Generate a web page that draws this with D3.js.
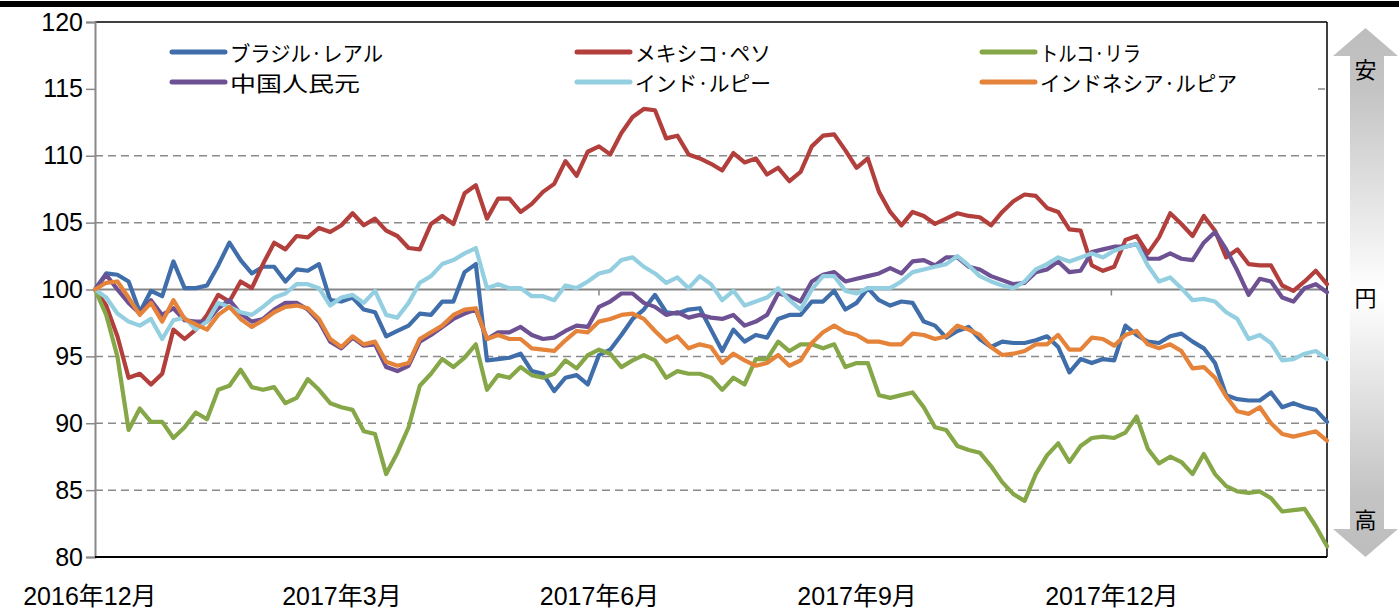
<!DOCTYPE html>
<html><head><meta charset="utf-8">
<script src="https://cdn.jsdelivr.net/npm/d3@7"></script>
<style>body{margin:0;background:#fff;overflow:hidden;} svg{display:block;}</style>
</head><body><svg id="c" width="1399" height="612"></svg>
<script>
// ---- data ----
const startDate = new Date(2016, 11, 3);
const endDate = new Date(2018, 1, 16);
const dates = d3.timeDay.range(startDate, new Date(2018, 1, 17), 4); // every 4 days, 111 points

const seriesNames = ["ブラジル·レアル", "メキシコ·ペソ", "トルコ·リラ", "中国人民元", "インド·ルピー", "インドネシア·ルピア"];
const seriesColors = ["#3f6eaa", "#b23f3c", "#86a747", "#6d5193", "#93cfe0", "#e5833a"];

const brl = [100,101.2,101.1,100.6,98.3,99.9,99.5,102.1,100.1,100.1,100.3,101.8,103.5,102.2,101.2,101.7,101.7,100.6,101.5,
  101.4,101.9,99.2,99.1,99.4,98.5,98.3,96.5,96.9,97.3,98.2,98.1,99.1,99.1,101.3,101.9,94.7,94.8,
  94.9,95.2,93.9,93.7,92.4,93.4,93.6,92.9,95.1,95.5,96.6,97.8,98.5,99.6,98.3,98.2,98.5,98.6,
  97.0,95.4,97.0,96.1,96.6,96.4,97.8,98.1,98.1,99.1,99.1,99.9,98.5,99.0,100.1,99.2,98.8,99.1,99.0,
  97.6,97.3,96.4,96.9,97.2,96.3,95.7,96.1,96.0,96.0,96.2,96.5,95.7,93.8,94.8,94.5,94.8,94.7,
  97.3,96.6,96.1,96.0,96.5,96.7,96.1,95.6,94.5,92.1,91.8,91.7,91.7,92.3,91.2,91.5,91.2,91.0,90.1];
const mxn = [100,98.8,96.5,93.4,93.7,92.9,93.7,97.0,96.3,97.0,98.1,99.6,99.1,100.6,100.1,101.9,103.5,103.0,104.0,
  103.9,104.6,104.3,104.8,105.7,104.8,105.3,104.4,104.0,103.1,103.0,104.9,105.5,104.9,107.2,107.8,105.3,106.8,
  106.8,105.8,106.4,107.3,107.9,109.6,108.5,110.3,110.7,110.1,111.7,112.9,113.5,113.4,111.3,111.5,110.1,109.8,
  109.4,108.9,110.2,109.5,109.8,108.6,109.1,108.1,108.8,110.7,111.5,111.6,110.4,109.1,109.8,107.3,105.8,104.8,105.8,
  105.5,104.9,105.3,105.7,105.5,105.4,104.8,105.8,106.6,107.1,107.0,106.1,105.8,104.5,104.4,101.8,101.4,101.7,
  103.7,104.0,102.7,103.9,105.7,104.9,104.0,105.5,104.4,102.4,103.0,101.9,101.8,101.8,100.3,99.9,100.6,101.4,100.4];
const tryl = [100,98.1,95.0,89.5,91.1,90.1,90.1,88.9,89.7,90.8,90.3,92.5,92.8,94.0,92.7,92.5,92.7,91.5,91.9,
  93.3,92.5,91.5,91.2,91.0,89.4,89.2,86.2,87.8,89.7,92.8,93.7,94.8,94.2,94.9,95.9,92.5,93.6,
  93.4,94.2,93.6,93.4,93.7,94.7,94.1,95.1,95.5,95.2,94.2,94.7,95.1,94.7,93.4,93.9,93.7,93.7,
  93.4,92.5,93.4,92.9,94.8,94.8,96.1,95.4,95.9,95.9,95.6,95.9,94.2,94.5,94.5,92.1,91.9,92.1,92.3,
  91.2,89.7,89.5,88.3,88.0,87.8,86.8,85.6,84.7,84.2,86.2,87.6,88.5,87.1,88.3,88.9,89.0,88.9,
  89.3,90.5,88.1,87.0,87.5,87.1,86.2,87.7,86.2,85.3,84.9,84.8,84.9,84.4,83.4,83.5,83.6,82.3,80.8];
const cny = [100,101.1,100.0,99.0,98.2,99.2,98.1,98.6,97.7,97.6,97.6,98.6,99.2,98.2,97.6,97.8,98.5,99.0,99.0,
  98.5,97.6,96.1,95.6,96.4,95.8,95.9,94.2,93.9,94.3,96.1,96.6,97.2,97.8,98.2,98.5,96.3,96.8,
  96.8,97.2,96.6,96.3,96.4,96.9,97.3,97.2,98.7,99.1,99.7,99.7,99.0,98.7,98.1,98.3,97.9,98.1,
  97.9,97.8,98.1,97.3,97.6,98.1,99.7,99.5,99.1,100.6,101.1,101.3,100.6,100.8,101.0,101.2,101.6,101.2,102.1,
  102.2,101.8,102.4,102.4,101.7,101.5,101.0,100.7,100.4,100.5,101.3,101.5,102.1,101.3,101.4,102.8,103.0,103.2,
  103.2,103.4,102.3,102.3,102.7,102.3,102.2,103.5,104.3,103.0,101.4,99.6,100.8,100.6,99.4,99.1,100.1,100.4,99.8];
const inr = [100,99.4,98.2,97.6,97.3,97.8,96.3,97.7,97.9,97.0,97.6,99.0,98.7,98.3,98.1,98.7,99.4,99.7,100.4,
  100.4,100.1,98.8,99.4,99.6,99.0,99.9,98.1,97.9,99.0,100.5,101.0,101.9,102.2,102.7,103.1,100.1,100.4,
  100.1,100.1,99.5,99.5,99.2,100.3,100.1,100.6,101.2,101.4,102.2,102.4,101.7,101.2,100.5,100.9,100.1,101.0,
  100.4,99.2,99.9,98.8,99.1,99.4,100.1,99.2,98.5,100.0,101.0,101.0,99.9,99.7,100.1,100.1,100.1,100.6,101.3,
  101.5,101.7,101.9,102.5,101.8,101.0,100.6,100.3,100.1,100.6,101.5,101.9,102.4,102.1,102.4,102.7,102.4,102.9,
  103.2,103.4,101.8,100.6,100.9,100.1,99.2,99.3,99.1,98.3,97.8,96.3,96.6,96.0,94.7,94.8,95.2,95.4,94.8];
const idr = [100,100.5,100.6,99.4,98.1,99.0,97.6,99.2,97.8,97.4,97.0,98.1,98.7,97.8,97.2,97.7,98.3,98.7,98.8,
  98.6,97.8,96.3,95.7,96.5,95.9,96.1,94.6,94.3,94.5,96.3,96.8,97.3,98.1,98.5,98.6,96.3,96.6,
  96.3,96.3,95.6,95.5,95.4,96.2,96.9,96.8,97.6,97.8,98.1,98.2,97.8,96.9,96.1,96.5,95.6,95.9,
  95.7,94.5,95.2,94.7,94.3,94.5,95.1,94.3,94.7,96.0,96.8,97.3,96.8,96.6,96.1,96.1,95.9,95.9,96.7,
  96.6,96.3,96.5,97.3,97.0,96.6,95.7,95.1,95.2,95.4,95.9,95.9,96.6,95.5,95.5,96.4,96.3,95.8,
  96.6,96.9,95.9,95.6,95.9,95.4,94.1,94.2,93.4,92.0,90.9,90.7,91.2,90.0,89.2,89.0,89.2,89.4,88.7];
const seriesValues = [brl, mxn, tryl, cny, inr, idr];

const yTicks = [80, 85, 90, 95, 100, 105, 110, 115, 120];
const xTickDates = [new Date(2016,11,1), new Date(2017,2,1), new Date(2017,5,1), new Date(2017,8,1), new Date(2017,11,1)];
const xTickLabels = ["2016年12月", "2017年3月", "2017年6月", "2017年9月", "2017年12月"];
const axisMarkDates = [new Date(2017,5,1), new Date(2017,11,1)];
const sideLabels = ["安", "円", "高"];

// ---- layout (styling only) ----
const legendTextWidths = [153, 136, 101, 130, 136, 197];
const L = 95, R = 1327, T = 22, B = 557;
const svg = d3.select("#c");
const x = d3.scaleTime().domain([startDate, endDate]).range([L, R]);
const y = d3.scaleLinear().domain([80, 120]).range([B, T]);
const cjk = "'Noto Sans CJK JP', 'Noto Sans CJK SC', sans-serif";
const latin = "'Liberation Sans', Arial, 'Noto Sans CJK JP', sans-serif";

// top black rule
svg.append("rect").attr("x", 0).attr("y", 1).attr("width", 1399).attr("height", 6).attr("fill", "#000");

// gridlines
svg.append("g").selectAll("line").data(yTicks.filter(v => v !== 80 && v !== 120 && v !== 100)).join("line")
  .attr("x1", L).attr("x2", R).attr("y1", d => y(d)).attr("y2", d => y(d))
  .attr("stroke", "#8a8a8a").attr("stroke-width", 1.5).attr("stroke-dasharray", "8,5");
svg.append("line").attr("x1", L).attr("x2", R).attr("y1", y(100)).attr("y2", y(100))
  .attr("stroke", "#858585").attr("stroke-width", 1.8);
svg.append("g").selectAll("line").data(axisMarkDates).join("line")
  .attr("x1", d => x(d)).attr("x2", d => x(d)).attr("y1", y(100)).attr("y2", y(100) + 6)
  .attr("stroke", "#858585").attr("stroke-width", 1.5);

// legend background (covers 115 gridline)
svg.append("rect").attr("x", L + 1).attr("y", 34).attr("width", 1318 - L - 1).attr("height", 64).attr("fill", "#fff");

// frame
svg.append("line").attr("x1", L).attr("x2", R).attr("y1", T).attr("y2", T).attr("stroke", "#000").attr("stroke-width", 1.5);
svg.append("line").attr("x1", R).attr("x2", R).attr("y1", T).attr("y2", B).attr("stroke", "#000").attr("stroke-width", 1.5);

// y axis
const yAxis = svg.append("g").attr("transform", `translate(${L},0)`)
  .call(d3.axisLeft(y).tickValues(yTicks).tickSize(9).tickPadding(3).tickFormat(d3.format("d")));
yAxis.select(".domain").attr("stroke", "#888").attr("stroke-width", 2);
yAxis.selectAll(".tick line").attr("stroke", "#888").attr("stroke-width", 1.5);
yAxis.selectAll("text").attr("font-family", latin).attr("font-size", 25).attr("fill", "#000");

// x axis (bottom)
const xAxis = svg.append("g").attr("transform", `translate(0,${B})`)
  .call(d3.axisBottom(x).tickValues(xTickDates).tickSize(0).tickPadding(0)
    .tickFormat((d, i) => xTickLabels[i]));
xAxis.select(".domain").attr("stroke", "#000").attr("stroke-width", 2.2).attr("d", `M${L},0H${R}`);
xAxis.selectAll("text").attr("font-family", latin).attr("font-size", 25).attr("fill", "#000")
  .attr("dy", null).attr("y", 48);

// series lines
const line = d3.line().x((d, i) => x(dates[i])).y(d => y(d));
svg.append("g").selectAll("path").data(seriesValues).join("path")
  .attr("d", d => line(d)).attr("fill", "none")
  .attr("stroke", (d, i) => seriesColors[i]).attr("stroke-width", 4.2)
  .attr("stroke-linejoin", "round").attr("stroke-linecap", "round");

// legend
const legCols = [172, 577, 982], legRows = [52, 82];
const leg = svg.append("g").selectAll("g").data(seriesNames).join("g")
  .attr("transform", (d, i) => `translate(${legCols[i % 3]},${legRows[Math.floor(i / 3)]})`);
leg.append("line").attr("x1", 0).attr("x2", 53).attr("y1", 0).attr("y2", 0)
  .attr("stroke", (d, i) => seriesColors[i]).attr("stroke-width", 5).attr("stroke-linecap", "round");
leg.append("text").attr("x", 58).attr("y", 1).attr("dy", "0.36em").text(d => d)
  .attr("font-family", cjk).attr("font-size", 21).attr("fill", "#000")
  .attr("textLength", (d, i) => legendTextWidths[i]).attr("lengthAdjust", "spacingAndGlyphs");

// side arrow
const defs = svg.append("defs");
const grad = defs.append("linearGradient").attr("id", "ag").attr("x1", 0).attr("y1", 0).attr("x2", 0).attr("y2", 1);
grad.append("stop").attr("offset", "0%").attr("stop-color", "#bdbdbd");
grad.append("stop").attr("offset", "12%").attr("stop-color", "#c4c4c4");
grad.append("stop").attr("offset", "50%").attr("stop-color", "#ffffff");
grad.append("stop").attr("offset", "88%").attr("stop-color", "#c4c4c4");
grad.append("stop").attr("offset", "100%").attr("stop-color", "#bdbdbd");
const ax0 = 1333, ax1 = 1398, sx0 = 1350, sx1 = 1384, cx = (ax0 + ax1) / 2;
const topTip = 28, topBase = 56, botBase = 529, botTip = 557;
svg.append("path").attr("fill", "url(#ag)")
  .attr("d", `M${cx},${topTip}L${ax1},${topBase}L${sx1},${topBase}L${sx1},${botBase}L${ax1},${botBase}L${cx},${botTip}L${ax0},${botBase}L${sx0},${botBase}L${sx0},${topBase}L${ax0},${topBase}Z`);
svg.append("g").selectAll("text").data(sideLabels).join("text")
  .attr("x", cx).attr("y", (d, i) => [70, 298, 520][i]).attr("dy", "0.36em")
  .attr("text-anchor", "middle").attr("font-family", cjk).attr("font-size", 22).attr("fill", "#000").text(d => d);
</script>
</body></html>
